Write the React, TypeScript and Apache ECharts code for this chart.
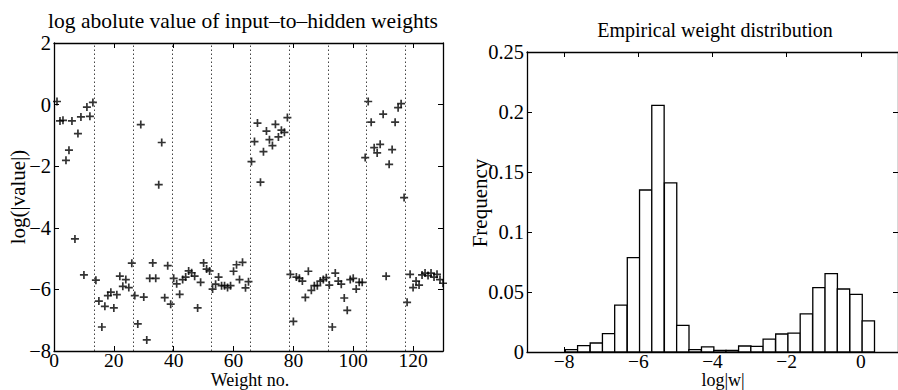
import React, { useEffect, useRef } from "react";
import * as echarts from "echarts";

// ---- Left panel: log |w| of the 130 input-to-hidden weights (10 hidden units x 13 weights)
const UNIT_1 = [0.1, -0.53, -0.51, -1.81, -1.48, -0.53, -4.36, -0.94, -0.4, -5.53, -0.08, -0.38, 0.07];
const UNIT_2 = [-5.7, -6.38, -7.22, -6.55, -6.2, -6.09, -6.6, -6.17, -5.57, -5.9, -5.68, -5.94, -5.15];
const UNIT_3 = [-6.2, -7.12, -0.65, -6.25, -7.64, -5.64, -5.14, -5.64, -2.6, -1.23, -6.27, -5.23, -6.48];
const UNIT_4 = [-5.64, -5.82, -6.16, -5.68, -5.6, -5.4, -5.46, -5.57, -6.6, -5.77, -5.14, -5.34, -5.4];
const UNIT_5 = [-5.99, -5.83, -5.6, -5.88, -5.88, -5.94, -5.88, -5.41, -5.2, -5.68, -5.12, -5.95, -5.75];
const UNIT_6 = [-1.85, -1.2, -0.6, -2.52, -1.53, -0.86, -1.14, -1.33, -0.64, -1.05, -0.83, -0.9, -0.42];
const UNIT_7 = [-5.51, -7.04, -5.6, -5.64, -5.73, -6.26, -5.41, -6.03, -5.88, -5.88, -5.73, -5.68, -5.62];
const UNIT_8 = [-5.86, -7.22, -5.47, -5.73, -5.83, -6.28, -6.68, -5.68, -5.64, -5.99, -5.77, -5.77, -1.72];
const UNIT_9 = [0.1, -0.57, -1.4, -1.57, -1.29, -0.31, -5.57, -1.94, -1.46, -0.57, -0.1, 0.03, -3.02];
const UNIT_10 = [-6.42, -5.51, -5.94, -5.73, -5.86, -5.53, -5.47, -5.55, -5.47, -5.6, -5.51, -5.68, -5.8];
const LOG_ABS_W = [
  ...UNIT_1, ...UNIT_2, ...UNIT_3, ...UNIT_4, ...UNIT_5,
  ...UNIT_6, ...UNIT_7, ...UNIT_8, ...UNIT_9, ...UNIT_10,
];
const UNIT_SEPARATORS = [13.5, 26.5, 39.5, 52.5, 65.5, 78.5, 91.5, 104.5, 117.5];
const LEFT_X_TICKS = [0, 20, 40, 60, 80, 100, 120];

// ---- Right panel: histogram of log|w|
const BIN_CENTERS = [
  -7.8, -7.47, -7.13, -6.8, -6.47, -6.13, -5.8, -5.47, -5.13, -4.8, -4.47, -4.13, -3.8,
  -3.47, -3.13, -2.8, -2.47, -2.13, -1.8, -1.47, -1.13, -0.8, -0.47, -0.13, 0.2,
];
const BIN_WIDTH = 0.3333;
const FREQUENCY = [
  0.002, 0.0053, 0.0075, 0.0153, 0.039, 0.0786, 0.135, 0.2056, 0.141, 0.0222, 0.002, 0.0042,
  0.0014, 0.0014, 0.005, 0.0047, 0.0108, 0.015, 0.0158, 0.0317, 0.0536, 0.0653, 0.0525, 0.048, 0.026,
];
const RIGHT_X_TICKS = [-8, -6, -4, -2, 0];

const FONT = "'Liberation Serif', 'Times New Roman', serif";
const minus = (v: number) => String(v).replace("-", "\u2212");

export default function App() {
  const ref = useRef<HTMLDivElement>(null);
  useEffect(() => {
    document.body.style.margin = "0";
    const chart = echarts.init(ref.current!, null, { renderer: "svg" });
    const tickLabel = { color: "#000", fontFamily: FONT, fontSize: 20.5, lineHeight: 17 };
    const xTickLabel = { ...tickLabel, fontSize: 19.5, lineHeight: 16 };
    const axisLine = { show: true, onZero: false, lineStyle: { color: "#000", width: 1.3 } };
    const tick = { show: true, inside: true, length: 5, lineStyle: { color: "#000", width: 1 } };

    const scatterData = LOG_ABS_W.map((v, i) => [i + 1, v]);
    const histData = BIN_CENTERS.map((c, i) => [c - BIN_WIDTH / 2, c + BIN_WIDTH / 2, FREQUENCY[i]]);

    chart.setOption({
      animation: false,
      backgroundColor: "#fff",
      grid: [
        { left: 54, top: 43, width: 389, height: 308 },
        { left: 527, top: 52, width: 377, height: 300 },
      ],
      xAxis: [
        {
          gridIndex: 0, type: "value", min: 0, max: 130, position: "bottom",
          splitLine: { show: false }, axisLine, axisTick: { ...tick, customValues: LEFT_X_TICKS },
          axisLabel: { ...xTickLabel, margin: 1, customValues: LEFT_X_TICKS, formatter: minus },
        },
        {
          gridIndex: 0, type: "value", min: 0, max: 130, position: "top",
          splitLine: { show: false }, axisLine, axisTick: { ...tick, customValues: LEFT_X_TICKS },
          axisLabel: { show: false },
        },
        {
          gridIndex: 1, type: "value", min: -9, max: 1, position: "bottom",
          splitLine: { show: false }, axisLine, axisTick: { ...tick, customValues: RIGHT_X_TICKS },
          axisLabel: { ...xTickLabel, margin: 1, customValues: RIGHT_X_TICKS, formatter: minus },
        },
        {
          gridIndex: 1, type: "value", min: -9, max: 1, position: "top",
          splitLine: { show: false }, axisLine, axisTick: { ...tick, customValues: RIGHT_X_TICKS },
          axisLabel: { show: false },
        },
      ],
      yAxis: [
        {
          gridIndex: 0, type: "value", min: -8, max: 2, interval: 2, position: "left",
          splitLine: { show: false }, axisLine, axisTick: tick,
          axisLabel: { ...tickLabel, margin: 3, formatter: minus },
        },
        {
          gridIndex: 0, type: "value", min: -8, max: 2, interval: 2, position: "right",
          splitLine: { show: false }, axisLine, axisTick: tick, axisLabel: { show: false },
        },
        {
          gridIndex: 1, type: "value", min: 0, max: 0.25, interval: 0.05, position: "left",
          splitLine: { show: false }, axisLine, axisTick: tick,
          axisLabel: { ...tickLabel, margin: 3 },
        },
        {
          gridIndex: 1, type: "value", min: 0, max: 0.25, interval: 0.05, position: "right",
          splitLine: { show: false }, axisLine, axisTick: tick, axisLabel: { show: false },
        },
      ],
      series: [
        {
          type: "scatter",
          xAxisIndex: 0,
          yAxisIndex: 0,
          data: scatterData,
          symbol: "path://M5,0L5,10M0,5L10,5",
          symbolSize: 8,
          itemStyle: { color: "none", borderColor: "#000", borderWidth: 1.7 },
          markLine: {
            silent: true,
            symbol: "none",
            label: { show: false },
            lineStyle: { color: "#444", type: [1.5, 2.5], width: 1 },
            data: UNIT_SEPARATORS.map((x) => ({ xAxis: x })),
          },
        },
        {
          type: "custom",
          xAxisIndex: 2,
          yAxisIndex: 2,
          data: histData,
          encode: { x: [0, 1], y: 2 },
          renderItem: (params: any, api: any) => {
            const p0 = api.coord([api.value(0), api.value(2)]);
            const p1 = api.coord([api.value(1), 0]);
            return {
              type: "rect",
              shape: { x: p0[0], y: p0[1], width: p1[0] - p0[0], height: p1[1] - p0[1] },
              style: { fill: "#fff", stroke: "#000", lineWidth: 1.3 },
            };
          },
        },
      ],
      graphic: [
        {
          type: "text", x: 243, y: 21,
          style: { text: "log abolute value of input\u2013to\u2013hidden weights", font: `21.5px ${FONT}`, fill: "#000", textAlign: "center", textVerticalAlign: "middle" },
        },
        {
          type: "text", x: 715, y: 30,
          style: { text: "Empirical weight distribution", font: `20px ${FONT}`, fill: "#000", textAlign: "center", textVerticalAlign: "middle" },
        },
        {
          type: "text", x: 18, y: 197, rotation: Math.PI / 2,
          style: { text: "log(|value|)", font: `21px ${FONT}`, fill: "#000", textAlign: "center", textVerticalAlign: "middle" },
        },
        {
          type: "text", x: 250, y: 389,
          style: { text: "Weight no.", font: `18px ${FONT}`, fill: "#000", textAlign: "center", textVerticalAlign: "bottom" },
        },
        {
          type: "text", x: 480, y: 203, rotation: Math.PI / 2,
          style: { text: "Frequency", font: `21px ${FONT}`, fill: "#000", textAlign: "center", textVerticalAlign: "middle" },
        },
        {
          type: "text", x: 723, y: 389,
          style: { text: "log|w|", font: `18px ${FONT}`, fill: "#000", textAlign: "center", textVerticalAlign: "bottom" },
        },
      ],
    });
    return () => chart.dispose();
  }, []);
  return <div ref={ref} style={{ width: 898, height: 390 }} />;
}
